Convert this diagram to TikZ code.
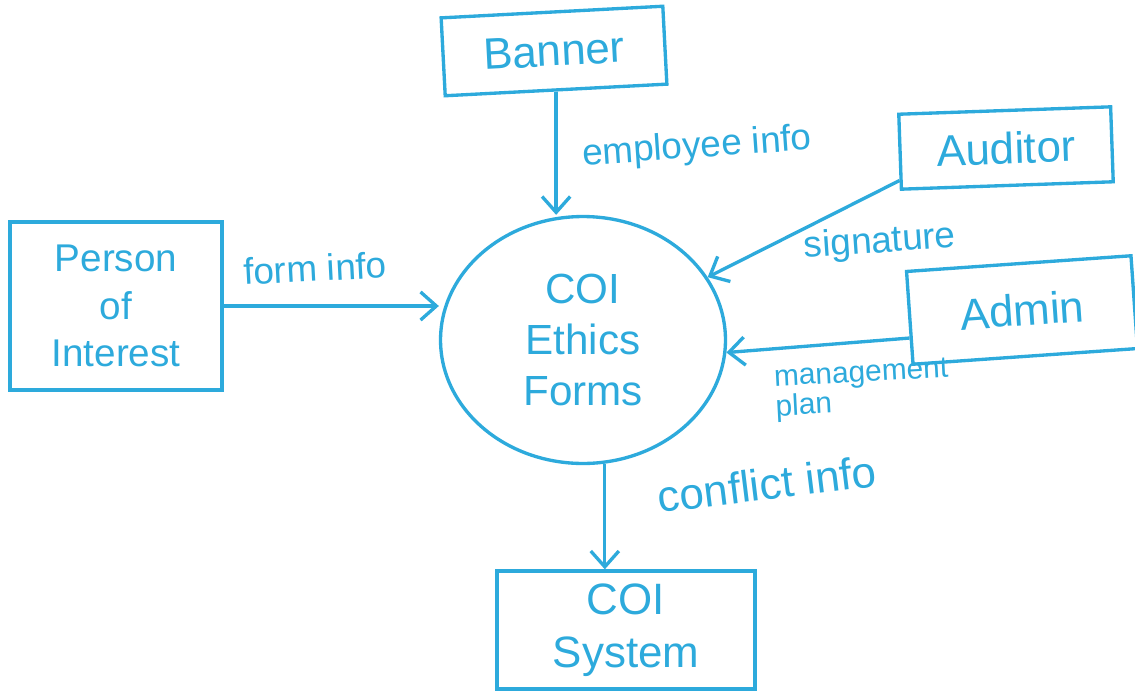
\documentclass[tikz,border=0pt]{standalone}
\usepackage{fontspec}
\setmainfont{Liberation Sans}
\usetikzlibrary{shapes.geometric, arrows.meta}
\definecolor{penblue}{RGB}{45,170,220}

\begin{document}
\begin{tikzpicture}[x=0.02cm, y=-0.02cm, penblue, line width=1.9pt,
	entity/.style={draw, rectangle, align=center, font=\fontsize{25}{30}\selectfont},
	flowlbl/.style={font=\fontsize{21}{25}\selectfont, inner sep=1pt},
	flow/.style={-{Straight Barb[length=9pt,width=16pt]}}]
	\useasboundingbox (0,0) rectangle (1135,690);
	\fill[white] (0,0) rectangle (1135,690);

	% process and entities
	\node[draw, ellipse, minimum width=5.7cm, minimum height=4.94cm, align=center,
		font=\fontsize{24}{29}\selectfont] (forms) at (583,340) {COI\\Ethics\\Forms};
	\node[entity, minimum width=4.44cm, minimum height=1.56cm, rotate=3] (banner) at (554,51) {Banner};
	\node[entity, minimum width=4.24cm, minimum height=3.36cm,
		font=\fontsize{22}{27}\selectfont] (person) at (116,306) {Person\\of\\Interest};
	\node[entity, minimum width=4.24cm, minimum height=1.5cm, rotate=2] (auditor) at (1006,148) {Auditor};
	\node[entity, minimum width=4.5cm, minimum height=1.86cm, rotate=4] (admin) at (1022,310) {Admin};
	\node[entity, minimum width=5.16cm, minimum height=2.36cm] (system) at (626,630) {COI\\System};

	% data flows
	\path[flow] (banner.south) edge (banner.south |- forms.north);
	\path[flow] (person.east) edge (person.east -| forms.west);
	\path[flow] (auditor.195) edge (forms);
	\path[flow] (admin.190) edge (forms.-5);
	\path[flow] (forms.-80) edge (forms.-80 |- system.north);

	% flow labels
	\node[flowlbl, rotate=4] (empinfo) at (697,148) {employee info};
	\node[flowlbl, rotate=3] (forminfo) at (315,268) {form info};
	\node[flowlbl, rotate=4] (sigtext) at (880,243) {signature};
	\node[flowlbl, rotate=3, align=left, font=\fontsize{17}{17}\selectfont] (mgmtplan) at (862,390) {management\\plan};
	\node[flowlbl, rotate=7, font=\fontsize{25}{30}\selectfont] (conflinfo) at (767,484) {conflict info};
\end{tikzpicture}
\end{document}
